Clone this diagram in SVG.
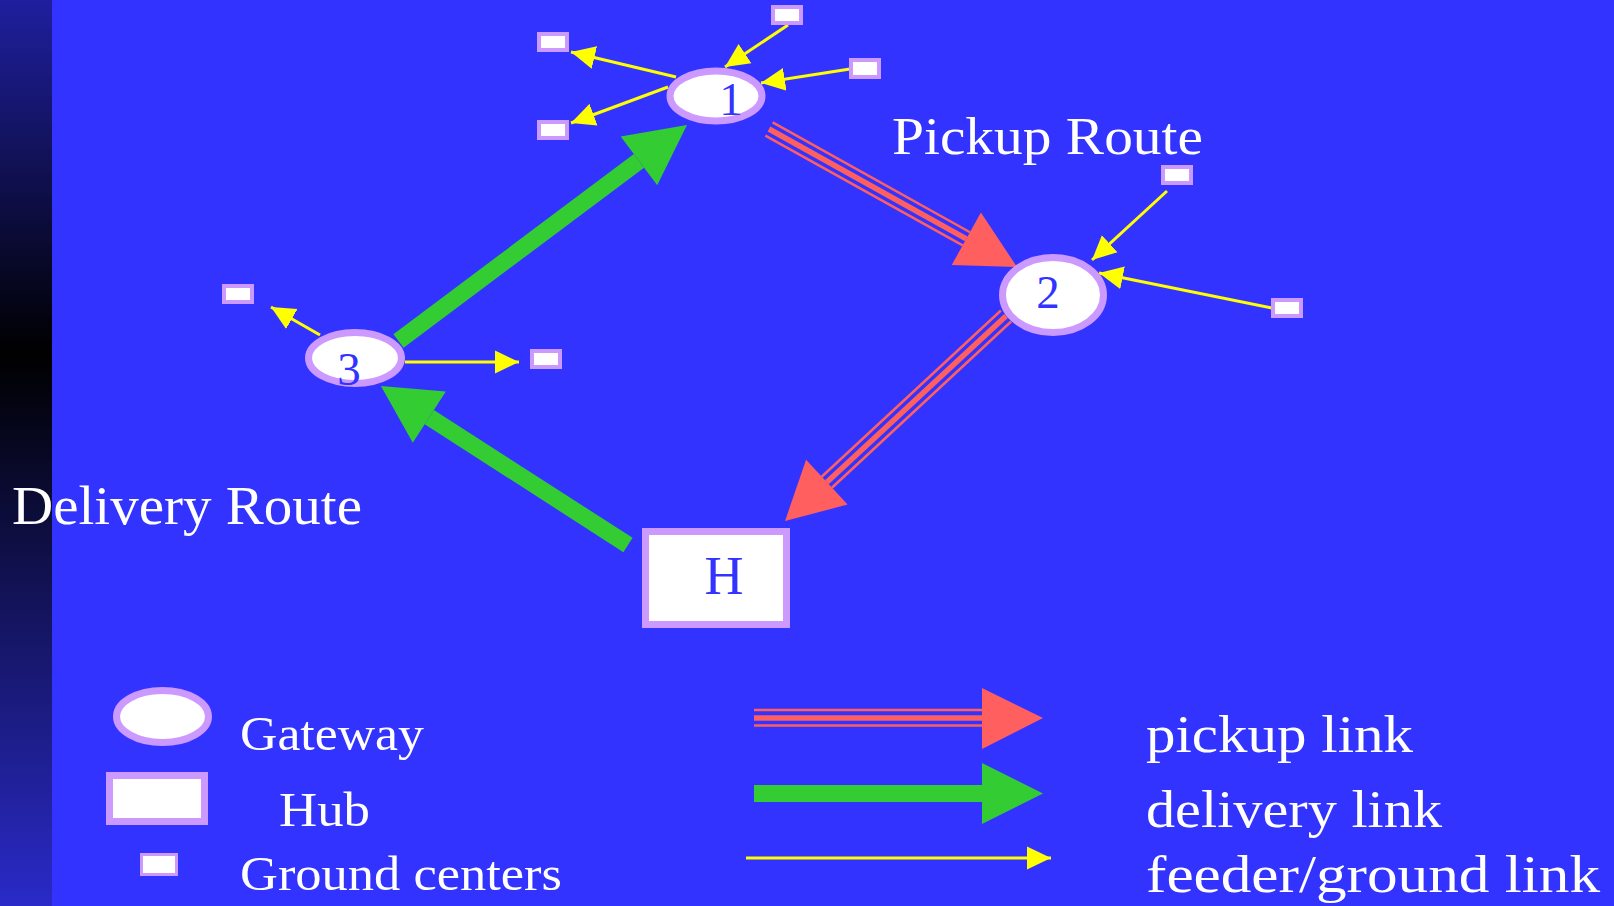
<svg xmlns="http://www.w3.org/2000/svg" width="1614" height="906" viewBox="0 0 1614 906">
  <defs>
    <linearGradient id="sideBar" x1="0" y1="0" x2="0" y2="1">
      <stop offset="0" stop-color="#1f1f9f"/>
      <stop offset="0.39" stop-color="#000000"/>
      <stop offset="1" stop-color="#2a2ac8"/>
    </linearGradient>
    <marker id="feedHead" markerUnits="userSpaceOnUse" markerWidth="24" markerHeight="24" refX="24" refY="11.5" orient="auto" viewBox="0 0 24 23">
      <path d="M0,0 L24,11.5 L0,23 Z" fill="#ffff00"/>
    </marker>
    <style>
      .gw { fill: #ffffff; stroke: #cc99ff; stroke-width: 7; }
      .hub { fill: #ffffff; stroke: #cc99ff; stroke-width: 7; }
      .gc { fill: #ffffff; stroke: #cc99ff; stroke-width: 4; }
      .num { font-family: "Liberation Serif", "DejaVu Serif", serif; fill: #3333ff; text-anchor: middle; }
      .lbl { font-family: "Liberation Serif", "DejaVu Serif", serif; fill: #ffffff; }
      .pk-thin { stroke: #ff5f5f; stroke-width: 2.5; fill: none; }
      .pk-mid { stroke: #ff5f5f; stroke-width: 5.5; fill: none; }
      .pk-head { fill: #ff5f5f; }
      .dl-shaft { stroke: #33cc33; stroke-width: 17; fill: none; }
      .dl-head { fill: #33cc33; }
      .fd { stroke: #ffff00; stroke-width: 3; fill: none; marker-end: url(#feedHead); }
    </style>
  </defs>

  <!-- backdrop -->
  <rect x="0" y="0" width="1614" height="906" fill="#3333ff"/>
  <rect x="0" y="0" width="52" height="906" fill="url(#sideBar)"/>

  <!-- links -->
  <g id="connectors">
    <!-- pickup route: 1 -> 2 -->
    <g id="pickup-1-2" transform="translate(769,129) rotate(29.09)">
      <line class="pk-thin" x1="0" y1="-7.5" x2="225.8" y2="-7.5"/>
      <line class="pk-mid" x1="0" y1="0" x2="225.8" y2="0"/>
      <line class="pk-thin" x1="0" y1="7.5" x2="225.8" y2="7.5"/>
      <polygon class="pk-head" points="225.8,-30 283.8,0 225.8,30"/>
    </g>
    <!-- pickup route: 2 -> H -->
    <g id="pickup-2-H" transform="translate(1006,316) rotate(137.15)">
      <line class="pk-thin" x1="0" y1="-7.5" x2="244.4" y2="-7.5"/>
      <line class="pk-mid" x1="0" y1="0" x2="244.4" y2="0"/>
      <line class="pk-thin" x1="0" y1="7.5" x2="244.4" y2="7.5"/>
      <polygon class="pk-head" points="244.4,-30.5 301.4,0 244.4,30.5"/>
    </g>
    <!-- delivery route: H -> 3 -->
    <g id="delivery-H-3" transform="translate(628,545) rotate(-147.23)">
      <line class="dl-shaft" x1="0" y1="0" x2="236.3" y2="0"/>
      <polygon class="dl-head" points="236.3,-30.5 293.8,0 236.3,30.5"/>
    </g>
    <!-- delivery route: 3 -> 1 -->
    <g id="delivery-3-1" transform="translate(398.5,341) rotate(-36.83)">
      <line class="dl-shaft" x1="0" y1="0" x2="300.4" y2="0"/>
      <polygon class="dl-head" points="300.4,-30.5 360.4,0 300.4,30.5"/>
    </g>
    <!-- feeder / ground links -->
    <line class="fd" x1="676" y1="77" x2="571" y2="52"/>
    <line class="fd" x1="668" y1="87" x2="571" y2="123"/>
    <line class="fd" x1="788" y1="25" x2="725" y2="67"/>
    <line class="fd" x1="850" y1="69" x2="761" y2="83"/>
    <line class="fd" x1="1167" y1="191" x2="1092" y2="260"/>
    <line class="fd" x1="1272" y1="308" x2="1099" y2="273"/>
    <line class="fd" x1="320" y1="335" x2="271" y2="307"/>
    <line class="fd" x1="405" y1="362" x2="519" y2="362"/>
  </g>

  <!-- gateways -->
  <g id="gateway-1">
    <ellipse class="gw" cx="716" cy="96" rx="46" ry="25"/>
    <text class="num" x="731" y="115" font-size="47">1</text>
  </g>
  <g id="gateway-2">
    <ellipse class="gw" cx="1053" cy="295" rx="50.5" ry="37.5"/>
    <text class="num" x="1048" y="308" font-size="47">2</text>
  </g>
  <g id="gateway-3">
    <ellipse class="gw" cx="355" cy="358" rx="46.5" ry="25.5"/>
    <text class="num" x="349" y="385" font-size="47">3</text>
  </g>

  <!-- hub -->
  <g id="hub-H">
    <rect class="hub" x="645.5" y="531.5" width="141" height="93"/>
    <text class="num" x="724" y="594" font-size="54">H</text>
  </g>

  <!-- ground centers -->
  <g id="ground-1a"><rect class="gc" x="539" y="34" width="28" height="16"/></g>
  <g id="ground-1b"><rect class="gc" x="539" y="122" width="28" height="16"/></g>
  <g id="ground-1c"><rect class="gc" x="773" y="7" width="28" height="16"/></g>
  <g id="ground-1d"><rect class="gc" x="851" y="60" width="28" height="17"/></g>
  <g id="ground-2a"><rect class="gc" x="1163" y="167" width="28" height="16"/></g>
  <g id="ground-2b"><rect class="gc" x="1273" y="300" width="28" height="16"/></g>
  <g id="ground-3a"><rect class="gc" x="224" y="286" width="28" height="16"/></g>
  <g id="ground-3b"><rect class="gc" x="532" y="351" width="28" height="16"/></g>

  <!-- route captions -->
  <text class="lbl" x="892" y="154" font-size="53" textLength="311" lengthAdjust="spacingAndGlyphs">Pickup Route</text>
  <text class="lbl" x="12" y="524" font-size="54" textLength="350" lengthAdjust="spacingAndGlyphs">Delivery Route</text>

  <!-- legend: node kinds -->
  <g id="legend-nodes">
    <ellipse class="gw" cx="162.5" cy="716.5" rx="46" ry="26"/>
    <rect class="hub" x="109.5" y="775.5" width="95" height="46"/>
    <rect fill="#ffffff" stroke="#cc99ff" stroke-width="3" x="141.5" y="854.5" width="35" height="20"/>
    <text class="lbl" x="240" y="750" font-size="49" textLength="184" lengthAdjust="spacingAndGlyphs">Gateway</text>
    <text class="lbl" x="279" y="826" font-size="49" textLength="91" lengthAdjust="spacingAndGlyphs">Hub</text>
    <text class="lbl" x="240" y="890" font-size="48" textLength="322" lengthAdjust="spacingAndGlyphs">Ground centers</text>
  </g>

  <!-- legend: link kinds -->
  <g id="legend-links">
    <line class="pk-thin" x1="754" y1="710" x2="982" y2="710"/>
    <line class="pk-mid" x1="754" y1="718" x2="982" y2="718"/>
    <line class="pk-thin" x1="754" y1="725.5" x2="982" y2="725.5"/>
    <polygon class="pk-head" points="982,688 1043,718 982,749"/>
    <line class="dl-shaft" x1="754" y1="793.5" x2="982" y2="793.5"/>
    <polygon class="dl-head" points="982,763 1043,793.5 982,824"/>
    <line class="fd" x1="746" y1="858" x2="1051" y2="858"/>
    <text class="lbl" x="1146" y="752" font-size="52" textLength="267" lengthAdjust="spacingAndGlyphs">pickup link</text>
    <text class="lbl" x="1146" y="827" font-size="52" textLength="296" lengthAdjust="spacingAndGlyphs">delivery link</text>
    <text class="lbl" x="1146" y="892" font-size="52" textLength="454" lengthAdjust="spacingAndGlyphs">feeder/ground link</text>
  </g>
</svg>
